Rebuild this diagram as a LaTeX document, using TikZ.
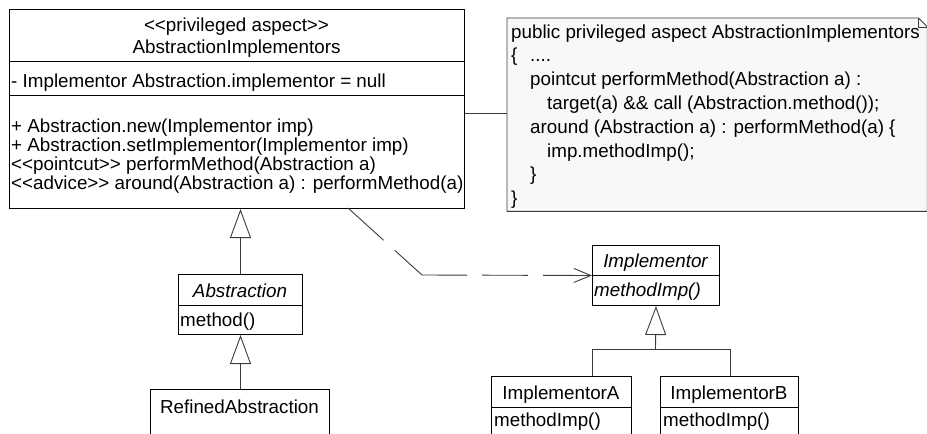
\documentclass[tikz,border=0pt]{standalone}
\usepackage{fontspec}
\setmainfont{Liberation Sans}
\usetikzlibrary{arrows.meta}
\definecolor{notefill}{RGB}{248,248,248}
\definecolor{linegray}{RGB}{60,60,60}
\newcommand\dgmsize{\fontsize{18.8pt}{19pt}\selectfont}
\begin{document}
\begin{tikzpicture}[x=1pt,y=-1pt,
  txt/.style={inner sep=0pt, font=\dgmsize},
  txtl/.style={txt, anchor=base west},
  txtc/.style={txt, anchor=base},
  cls/.style={draw=black, line width=1pt, fill=white, inner sep=0pt, anchor=north west},
  divline/.style={draw=black, line width=0.9pt},
  gen/.style={draw=linegray, line width=0.9pt, -{Triangle[open, length=29pt, width=21pt, line width=0.9pt]}},
  plain/.style={draw=linegray, line width=0.9pt},
  depend/.style={draw=linegray, line width=0.9pt, dash pattern=on 48pt off 15pt on 82pt off 15pt on 46pt off 15pt on 100pt,
     -{Straight Barb[length=17pt, width=14pt, line width=0.9pt]}},
  notebox/.style={draw=linegray, line width=0.9pt, fill=notefill}
]
\useasboundingbox (0,0) rectangle (927,434);
\clip (0,0) rectangle (927,434);

% ---------- note ----------
\node[inner sep=0pt, minimum width=420pt, minimum height=193pt, anchor=north west] (note) at (507,18) {};
\path[notebox] (note.north west) -- ([xshift=-9pt]note.north east) -- ([yshift=-9pt]note.north east)
   -- (note.south east) -- (note.south west) -- cycle;
\path[plain] ([xshift=-9pt]note.north east) -- ([xshift=-9pt,yshift=-9pt]note.north east) -- ([yshift=-9pt]note.north east);
\node[txtl] (n1) at (511,38) {public privileged aspect AbstractionImplementors};
\node[txtl] (n2a) at (511,61.8) {\{};
\node[txtl] (n2b) at (530,61.8) {....};
\node[txtl] (n3) at (530,85.6) {pointcut performMethod(Abstraction a) :};
\node[txtl] (n4) at (547,109.4) {target(a) \&\& call (Abstraction.method());};
\node[txtl] (n5) at (530,133.2) {around (Abstraction a) : performMethod(a) \{};
\node[txtl] (n6) at (547,157) {imp.methodImp();};
\node[txtl] (n7) at (530,180.8) {\}};
\node[txtl] (n8) at (511,204.6) {\}};

% ---------- main aspect box ----------
\node[cls, minimum width=455pt, minimum height=199pt] (main) at (9,9) {};
\draw[divline] (main.west |- 0,61) -- (main.east |- 0,61);
\draw[divline] (main.west |- 0,95) -- (main.east |- 0,95);
\node[txtc] (m1) at (236.5,31) {<{}<privileged aspect>{}>};
\node[txtc] (m2) at (236.5,53) {AbstractionImplementors};
\node[txtl] (m3) at (11,87) {- Implementor Abstraction.implementor = null};
\node[txtl] (m4) at (11,132) {+ Abstraction.new(Implementor imp)};
\node[txtl] (m5) at (11,151) {+ Abstraction.setImplementor(Implementor imp)};
\node[txtl] (m6) at (11,170) {<{}<pointcut>{}> performMethod(Abstraction a)};
\node[txtl] (m7) at (11,189) {<{}<advice>{}> around(Abstraction a) : performMethod(a)};

% note link
\draw[plain] (main.east |- 0,113) -- (note.west |- 0,113);

% ---------- Abstraction ----------
\node[cls, minimum width=124pt, minimum height=60pt] (abs) at (178,274) {};
\draw[divline] (abs.west |- 0,305) -- (abs.east |- 0,305);
\node[txtc, font=\dgmsize\itshape] (absname) at (240,297) {Abstraction};
\node[txtl] (absop) at (180,326) {method()};

% ---------- RefinedAbstraction ----------
\node[cls, minimum width=179pt, minimum height=70pt] (refined) at (150,389) {};
\node[txtc] (refname) at (239.5,413) {RefinedAbstraction};

% ---------- Implementor ----------
\node[cls, minimum width=127pt, minimum height=60pt] (impl) at (592,245) {};
\draw[divline] (impl.west |- 0,275) -- (impl.east |- 0,275);
\node[txtc, font=\dgmsize\itshape] (implname) at (655.5,267) {Implementor};
\node[txtl, font=\dgmsize\itshape] (implop) at (594,296) {methodImp()};

% ---------- ImplementorA / B ----------
\node[cls, minimum width=140pt, minimum height=70pt] (implA) at (491,376) {};
\draw[divline] (implA.west |- 0,407) -- (implA.east |- 0,407);
\node[txtc] (aname) at (561,399) {ImplementorA};
\node[txtl] (aop) at (494,426.5) {methodImp()};

\node[cls, minimum width=138pt, minimum height=70pt] (implB) at (660,376) {};
\draw[divline] (implB.west |- 0,407) -- (implB.east |- 0,407);
\node[txtc] (bname) at (729,399) {ImplementorB};
\node[txtl] (bop) at (663,426.5) {methodImp()};

% ---------- generalizations ----------
\draw[gen] (abs.north) -- (abs.north |- main.south);
\draw[gen] (abs.north |- refined.north) -- (abs.south);

\coordinate (jn) at (655.5,349);
\coordinate (ja) at (592,376);
\coordinate (jb) at (730,376);
\draw[plain] (ja) -- (ja |- jn) -- (jb |- jn) -- (jb);
\draw[gen] (jn) -- (impl.south);

% ---------- dependency ----------
\coordinate (ds) at (348,208);
\coordinate (bend) at (422,275);
\draw[depend] (ds) -- (bend) -- (impl.west);
\end{tikzpicture}
\end{document}
